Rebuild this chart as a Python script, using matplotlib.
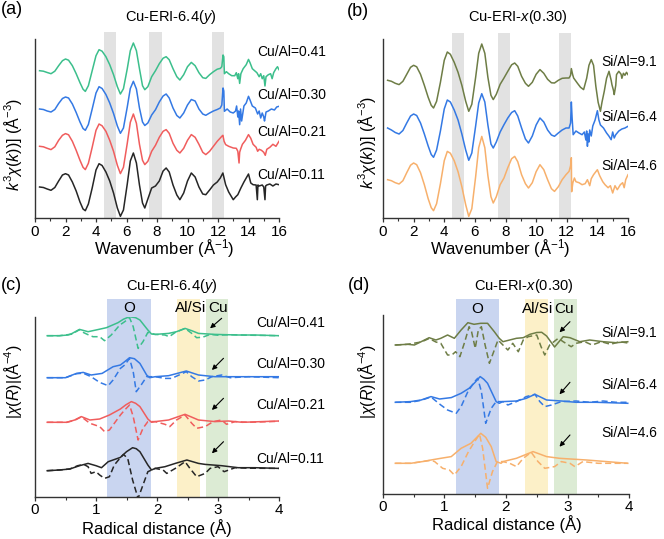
import numpy as np
import matplotlib
matplotlib.use("Agg")
import matplotlib.pyplot as plt
from matplotlib.ticker import MultipleLocator

plt.rcParams["font.family"] = ["Liberation Sans", "DejaVu Sans"]
plt.rcParams["mathtext.fontset"] = "custom"
plt.rcParams["mathtext.rm"] = "Liberation Sans"
plt.rcParams["mathtext.it"] = "Liberation Sans:italic"

# ==========================================================
# Data: k-space (panels a, b), values relative to each curve start
# ==========================================================

K_LOW = [0.3, 0.55, 0.8, 1.05, 1.3, 1.55, 1.8, 2.0, 2.2, 2.45,
         2.7, 2.95, 3.15, 3.3, 3.5, 3.75, 4.0, 4.2, 4.4, 4.65,
         4.9, 5.15, 5.4, 5.6, 5.8, 6.05, 6.25, 6.45, 6.65, 6.85,
         7.05, 7.2, 7.4, 7.65, 7.9, 8.15, 8.4, 8.6, 8.8, 9.05,
         9.3, 9.5, 9.75, 10.0, 10.25, 10.5, 10.75, 11.0, 11.2, 11.45,
         11.7, 11.95, 12.15]

# panel (a): Cu-ERI-6.4(y)
a_labels = ["Cu/Al=0.41", "Cu/Al=0.30", "Cu/Al=0.21", "Cu/Al=0.11"]
a_colors = ["#3cbf8c", "#3479e4", "#f05d5d", "#262626"]
a_offsets = [147.3, 109, 71.7, 31]

a041_low = [0, -0.5, -1.8, -3, -0.5, 5, 10, 11.7, 10.5, 5,
            -3, -12, -18.5, -20.7, -15, 0, 15, 21, 19.5, 14,
            6, -4, -16, -23.3, -18, 2, 20, 27.7, 20, 2,
            -15, -19, -16, -6, 0, 7, 12.5, 14, 11, 2,
            -6, -9.3, -4, 4, 8.3, 5, -2, -7, -7.7, -4,
            -1, 1.5, 2.3]
a041_khi = [12.25, 12.33, 12.38, 12.42, 12.55, 12.7, 12.9, 13.1, 13.2, 13.3,
            13.35, 13.42, 13.5, 13.65, 13.85, 14.0, 14.1, 14.25, 14.4, 14.55,
            14.7, 14.8, 14.9, 15.0, 15.08, 15.15, 15.3, 15.45, 15.55, 15.65,
            15.8, 15.9, 16.0]
a041_hi = [4, 15.7, 14, -3, -1, -3, -5, -5, -2, -8,
           -3, -12.7, -3, 2, 6, 11.3, 8, 2, 0, -2,
           -6, -3, -8, -5, -15.3, -6, -4, -3, -8, -2,
           2, 4, 1]

a030_low = [0, -0.5, -2, -3, -0.5, 5.5, 10.5, 12, 11, 5,
            -3.5, -13, -19.5, -21.3, -15.5, 0, 16, 22.3, 20.5, 14.5,
            6, -4.5, -17, -24.3, -19, 2, 20.5, 27.7, 20, 1,
            -13, -16.5, -14, -6, -0.7, 7, 13, 15, 11, 1,
            -6.5, -9, -4, 4, 9.5, 8, 0, -5, -6.3, -4,
            -2, -0.5, 1]
a030_khi = [12.25, 12.33, 12.38, 12.42, 12.6, 12.8, 13.0, 13.15, 13.22, 13.3,
            13.35, 13.42, 13.48, 13.55, 13.7, 13.85, 14.0, 14.1, 14.25, 14.45,
            14.6, 14.7, 14.8, 14.9, 15.0, 15.05, 15.15, 15.3, 15.5, 15.7,
            15.85, 16.0]
a030_hi = [4, 21, 18, -2.3, 0, -3, -4, -2, 3, -8,
           -2, -15.7, 0, -12, 3, 6, 12.7, 9, 3, 1,
           -5, -2, -9, -4, -8, -12, -3, -2, 0, -1,
           2, 2.7]

a021_low = [0, -0.5, -2, -3.3, -0.5, 6, 11, 12.7, 11.5, 5,
            -4, -14, -21, -23.3, -17, -1, 16, 22.3, 20.5, 15,
            6, -5, -19, -27.3, -21, 3, 24, 32.3, 23, 2,
            -14, -18.3, -15, -5, 1, 9, 15, 16.7, 13, 3,
            -4, -6.7, -2, 6, 11.7, 9, 2, -6, -8.3, -5,
            0, 5, 8.3]
a021_khi = [12.25, 12.32, 12.4, 12.5, 12.7, 13.0, 13.2, 13.3, 13.38, 13.42,
            13.48, 13.6, 13.8, 14.0, 14.15, 14.3, 14.5, 14.6, 14.7, 14.85,
            15.0, 15.1, 15.2, 15.4, 15.6, 15.8, 16.0]
a021_hi = [10, 11, 5, 1.7, 0, -1.7, -2, -5, -16.7, -6,
           -3, 2, 6, 11.7, 8, 2, -1, -5, -3, -4,
           -6, -9, -3, -1, 2, 0, 5]

a011_low = [0, -0.5, -2, -3.3, -0.5, 6, 12, 13.3, 12, 5,
            -4, -15, -22, -23.7, -17, -1, 17, 23.3, 21.5, 15,
            6, -6, -21, -29.3, -23, 3, 26, 34, 24, 2,
            -16, -21, -12, -1, 1, 6, 16, 19, 15, 2,
            -8, -12.7, -6, 6, 14, 10, 0, -7, -7.7, -3,
            2, 5, 9]
a011_khi = [12.25, 12.32, 12.5, 12.7, 13.0, 13.15, 13.3, 13.5, 13.7, 13.85,
            14.0, 14.15, 14.3, 14.5, 14.58, 14.62, 14.7, 14.9, 15.0, 15.08,
            15.12, 15.2, 15.4, 15.6, 15.8, 16.0]
a011_hi = [12, 14, 2.3, -5, -12.7, -10, -7.7, -1, 5, 9,
           13, 4, 2.3, 2, -12.7, 2, 1, 2, 0, -12.7,
           1, 2, 3, 1, 3, 2.3]

# panel (b): Cu-ERI-x(0.30)
b_labels = ["Si/Al=9.1", "Si/Al=6.4", "Si/Al=4.6"]
b_colors = ["#6e7d46", "#3479e4", "#f7b06c"]
b_offsets = [137.7, 90, 38.3]

b91_low = [0, -1, -3, -4.3, -1, 6, 13, 15, 13.5, 6,
           -5, -17, -25, -27.7, -21, -2, 20, 28.3, 26, 18,
           8, -5, -21, -31, -24, 3, 27, 36.3, 27, 3,
           -15, -19.3, -14, -4, 2.3, 9, 15.5, 17.3, 14, 4,
           -3, -6, -2, 6, 10.7, 7, 1, -2.5, -2.7, 0,
           2, 2.3, 2.3]
b91_khi = [12.25, 12.3, 12.38, 12.45, 12.7, 12.9, 13.1, 13.3, 13.45, 13.6,
           13.75, 13.9, 14.05, 14.2, 14.3, 14.45, 14.6, 14.76, 14.9, 14.95,
           15.05, 15.1, 15.2, 15.25, 15.4, 15.55, 15.6, 15.7, 15.8, 15.9,
           16.0]
b91_hi = [5, 11.7, 6, 2.3, -3, -7, -9.3, 2, 15, 20.7,
          15, -6, -22, -31, -22, -11, 2, 9, 0, -4.3,
          -10, -14.3, -5, 5.7, 9, 6, 2, 7, 5, 8,
          5.7]

b64_low = [0, -2, -4.5, -6, -2.5, 5, 12, 14, 12.5, 5,
           -6, -18, -26.5, -29.3, -22, -3, 19, 28, 26, 18,
           8, -6, -22, -32.3, -25, 2, 25, 34.3, 26, 3,
           -16, -20, -14, -4, 3.3, 10, 15.5, 17.3, 12, 0,
           -11, -15, -8, 3, 10, 6, -2, -7, -8.3, -5,
           -2, 0, 0]
b64_khi = [12.25, 12.3, 12.35, 12.42, 12.6, 12.8, 13.0, 13.15, 13.25, 13.3,
           13.35, 13.4, 13.45, 13.5, 13.6, 13.7, 13.85, 14.0, 14.1, 14.2,
           14.4, 14.6, 14.75, 14.9, 15.0, 15.1, 15.2, 15.4, 15.6, 15.8,
           16.0]
b64_hi = [5, 26, 10, -6.7, -3, -5, -6.7, -4, -12, -3,
          -18.3, -6, -14, -2, -8, 2, 8, 17.3, 8, 3,
          0, -5, -8, -11.7, -4, -10, -6.7, -3, -1, 0,
          1.7]

b46_low = [0, -1, -3, -4.3, -1, 7, 14.5, 16.7, 15, 7,
           -5, -19, -28, -31, -24, -4, 19, 28.3, 26.5, 19,
           8, -7, -25, -36.7, -29, 3, 32, 43.3, 32, 4,
           -17, -23.3, -17, -5, 1.7, 12, 21, 23.3, 18, 5,
           -4, -8.3, -3, 8, 15, 10, 0, -9, -11.7, -7,
           0, 5, 8.3]
b46_khi = [12.25, 12.3, 12.32, 12.4, 12.5, 12.6, 12.8, 13.0, 13.2, 13.35,
           13.5, 13.6, 13.75, 13.9, 14.0, 14.15, 14.35, 14.5, 14.7, 14.85,
           15.0, 15.15, 15.3, 15.5, 15.65, 15.75, 15.85, 16.0]
b46_hi = [14, 22, -12, -3, 1.7, -2, -3, -5, -4, 0,
          -6, 1, 5, 8, 10, 4, -2, -5, -8, -6,
          -13.3, -6, -10, -5, -3, -8, 0, 5]

# ==========================================================
# Data: R-space (panels c, d), |chi(R)| solid and Im part dashed
# ==========================================================

c_labels = a_labels
c_colors = a_colors
c_offsets = [161.3, 119.3, 74.7, 26.3]

c041_r = [0.2, 0.4, 0.54, 0.6, 0.73, 0.87, 1.0, 1.17, 1.36, 1.45,
          1.55, 1.65, 1.72, 1.85, 1.91, 1.97, 2.19, 2.32, 2.46, 2.57,
          2.68, 2.95, 3.33, 3.61, 4.0]
c041_mag = [0, 0, 0.7, 2, 6.3, 4, 5.7, 8, 13, 16.5,
            19, 18, 15.7, 5.7, 1.7, 1.3, 2.3, 4, 7.3, 5,
            2.3, 1.3, 0.7, 0.7, 0]
c041_ri = [0.2, 0.4, 0.6, 0.73, 0.8, 0.87, 0.95, 1.06, 1.14, 1.25,
           1.39, 1.47, 1.55, 1.61, 1.69, 1.77, 1.85, 1.97, 2.13, 2.2,
           2.3, 2.46, 2.57, 2.65, 2.75, 2.87, 3.0, 3.2, 3.5, 4.0]
c041_im = [0, 0, 1.5, 6, 3, 1, -1, -1, -5, 0.7,
           10.7, 14, 18, 9, -12.7, -6, 3.3, 1.3, 0.7, -1,
           3.3, 7.3, 2.3, -2, -1.5, 1.3, 0.5, 1, 0.5, 0]

c030_r = [0.2, 0.5, 0.57, 0.68, 0.79, 0.92, 1.1, 1.28, 1.4, 1.47,
          1.55, 1.63, 1.72, 1.83, 1.88, 1.97, 2.19, 2.48, 2.68, 2.95,
          3.33, 4.0]
c030_mag = [0, 0, 1.7, 4.3, 5.3, 2.7, 4.3, 11, 12.7, 16,
            20, 19, 14.3, 2.7, 0, 1, 2, 6.7, 2.7, 1,
            1, 1]
c030_ri = [0.2, 0.5, 0.68, 0.79, 0.92, 1.06, 1.2, 1.28, 1.4, 1.47,
           1.55, 1.61, 1.66, 1.74, 1.83, 1.97, 2.13, 2.24, 2.48, 2.57,
           2.68, 2.79, 2.9, 3.06, 3.2, 3.5, 4.0]
c030_im = [0, 0, 4, 4.5, 1, -4.7, -8, -2.3, 9.3, 12.7,
           19.3, 6, -14, -7.3, 1, 1, -0.7, -0.7, 6, 1,
           -3.3, -2.3, 1, 2.7, 0, 1, 0]

c021_r = [0.2, 0.52, 0.65, 0.76, 0.9, 1.06, 1.22, 1.4, 1.49, 1.58,
          1.65, 1.72, 1.85, 1.91, 1.97, 2.19, 2.46, 2.68, 2.95, 3.17,
          3.4, 4.0]
c021_mag = [0, 0, 2.3, 5.7, 2.3, 3.3, 7.3, 13.3, 17.5, 20.7,
            19, 15.7, 3.3, 0, 0.7, 2.3, 8, 2.3, 0.7, 1.3,
            0, 1.3]
c021_ri = [0.2, 0.52, 0.65, 0.76, 0.9, 1.06, 1.14, 1.22, 1.4, 1.47,
           1.55, 1.61, 1.69, 1.77, 1.85, 1.97, 2.13, 2.21, 2.32, 2.46,
           2.57, 2.65, 2.79, 2.92, 3.06, 3.14, 3.28, 3.5, 4.0]
c021_im = [0, 0, 2, 5.5, -1, -4.3, -9.3, -7.7, 7.3, 12.3,
           17.3, 5.7, -17.7, -6, 0.7, 0.7, -2, -4.3, 2.3, 7.3,
           -1, -6, -4.3, 0.7, 2.3, -2, 0.7, 0, 1]

c011_r = [0.2, 0.4, 0.57, 0.73, 0.87, 1.0, 1.09, 1.2, 1.4, 1.5,
          1.6, 1.66, 1.72, 1.85, 1.91, 1.97, 2.13, 2.3, 2.49, 2.68,
          2.79, 3.06, 3.33, 3.61, 4.0]
c011_mag = [0, 0.7, 1.7, 5, 7.3, 5, 3, 9, 13.3, 19,
            23, 22, 19, 5.7, 0.7, 2.3, 4, 7.3, 10.7, 7.3,
            6.3, 5, 3, 3, 2.3]
c011_ri = [0.2, 0.4, 0.57, 0.7, 0.8, 0.87, 0.92, 1.0, 1.06, 1.14,
           1.22, 1.3, 1.39, 1.45, 1.52, 1.6, 1.69, 1.77, 1.85, 1.97,
           2.1, 2.16, 2.3, 2.46, 2.54, 2.65, 2.79, 2.87, 3.0, 3.1,
           3.28, 3.5, 4.0]
c011_im = [0, 0.7, 1.7, 5, 6.3, 4, -2.7, -1, -4.3, -7.7,
           -6, 5.7, 12.3, 16.3, 12.3, -9.3, -27.7, -14.3, -1, 2.3,
           0.7, -2.7, 2.3, 9, 2.3, -6, -2.7, 2.3, 4, -1,
           3, 2.5, 2.3]

d_labels = b_labels
d_colors = b_colors
d_offsets = [149, 91.7, 30.7]

d91_r = [0.2, 0.4, 0.51, 0.62, 0.75, 0.86, 0.94, 1.05, 1.16, 1.27,
         1.38, 1.48, 1.59, 1.7, 1.81, 1.89, 1.95, 2.06, 2.17, 2.28,
         2.39, 2.5, 2.58, 2.66, 2.79, 2.93, 3.04, 3.2, 3.36, 3.58,
         3.79, 3.98]
d91_mag = [0, 0.7, 0, 3.3, 7.3, 5, 6.7, 10, 6.7, 15,
           22.3, 20.7, 21.7, 21.7, 13.3, 6.7, 3.3, 5, 6.7, 7.3,
           10.7, 12.5, 12.7, 9, -2, 8.3, 7.3, 3.3, 5, 3.3,
           2.3, 3.3]
d91_ri = [0.2, 0.4, 0.62, 0.75, 0.86, 0.94, 1.05, 1.12, 1.18, 1.25,
          1.33, 1.4, 1.44, 1.5, 1.55, 1.6, 1.66, 1.73, 1.8, 1.87,
          1.95, 2.03, 2.11, 2.2, 2.28, 2.36, 2.5, 2.57, 2.63, 2.71,
          2.85, 2.93, 3.06, 3.14, 3.28, 3.4, 3.55, 3.7, 3.85, 3.98]
d91_im = [0, 0.7, 3, 6.5, 3, 1.7, -10, -10, -6.7, -11.7,
          3.3, 18.3, 13.3, -3.3, 15, 18.3, 0, -18.3, -6.7, 5,
          0, -5, 1.7, -6.7, 5, 8.3, 10, -1.7, -10, 0,
          6.7, 3.3, -1.7, 1.7, 3.3, 0, 3.3, 0.7, 3.3, 2]

d64_r = [0.2, 0.45, 0.62, 0.78, 0.92, 1.11, 1.27, 1.4, 1.49, 1.58,
         1.64, 1.7, 1.84, 1.89, 1.95, 2.17, 2.33, 2.47, 2.66, 2.9,
         3.14, 3.47, 3.98]
d64_mag = [0, 0.7, 2.3, 5.7, 3.3, 4.7, 9, 14, 19.5, 25.7,
           23, 19, 0.7, -1, 0.7, 1.3, 4, 8, 2.3, 1.3,
           0, 0, -1]
d64_ri = [0.2, 0.45, 0.62, 0.78, 0.84, 0.94, 1.05, 1.19, 1.27, 1.38,
          1.49, 1.54, 1.6, 1.67, 1.76, 1.84, 1.95, 2.03, 2.17, 2.33,
          2.47, 2.55, 2.63, 2.74, 2.9, 3.14, 3.36, 3.58, 3.79, 3.98]
d64_im = [0, 0, 2, 5.3, 2.3, -2.7, -7.7, -11, -4.3, 10.7,
          20.7, 24, 10.7, -21, -6, 0.7, 0.7, -2.7, 0.7, 5.7,
          8, 0.7, -4.3, -2.7, 0.7, 1.3, 0, 1.3, 0, 0]

d46_r = [0.2, 0.45, 0.64, 0.78, 0.94, 1.11, 1.27, 1.43, 1.51, 1.59,
         1.67, 1.76, 1.84, 1.92, 1.95, 2.17, 2.44, 2.66, 2.87, 3.31,
         3.98]
d46_mag = [0, 0, 1.7, 3.3, 5, 6.7, 15, 20, 25, 30,
           26, 16.7, 1.7, 0, 1.7, 5, 11.7, 6.7, 5, 3.3,
           0]
d46_ri = [0.2, 0.45, 0.64, 0.78, 0.84, 0.97, 1.08, 1.16, 1.27, 1.39,
          1.49, 1.57, 1.62, 1.7, 1.78, 1.86, 1.95, 2.06, 2.17, 2.28,
          2.41, 2.52, 2.63, 2.79, 2.9, 3.04, 3.12, 3.25, 3.5, 3.98]
d46_im = [0, 0, 1.7, 3, 1.7, -5, -6.7, -11.7, -3.3, 11.7,
          21.7, 29, 15, -25, -8.3, 1.7, 1.7, 0, -3.3, 5,
          11, 1.7, -5, -3.3, 1.7, 0, -3.3, 1.7, 0, 0]

# shaded regions
K_BANDS = [(4.5, 5.3), (7.5, 8.3), (11.6, 12.4)]
K_BANDS_B = [(4.5, 5.3), (7.5, 8.3), (11.5, 12.3)]
R_BANDS = [(1.18, 1.90, "#c9d5f0"), (2.33, 2.70, "#fcf0c8"), (2.80, 3.17, "#dcebd4")]
R_BANDS_D = [(1.18, 1.88, "#c9d5f0"), (2.31, 2.68, "#fcf0c8"), (2.78, 3.15, "#dcebd4")]

# ==========================================================
# Figure
# ==========================================================

W, H = 664, 539
fig = plt.figure(figsize=(W / 100, H / 100), dpi=100)


def px_axes(left, top, right, bottom):
    return fig.add_axes([left / W, 1 - bottom / H, (right - left) / W, (bottom - top) / H])


def ftext(x, y, s, **kw):
    fig.text(x / W, 1 - y / H, s, **kw)


def style(ax, xmax, major, minor):
    for sp in ["top", "right"]:
        ax.spines[sp].set_visible(False)
    for sp in ["left", "bottom"]:
        ax.spines[sp].set_color("#333333")
        ax.spines[sp].set_linewidth(1.0)
    ax.set_yticks([])
    ax.set_xlim(0, xmax)
    ax.xaxis.set_major_locator(MultipleLocator(major))
    ax.xaxis.set_minor_locator(MultipleLocator(minor))
    ax.tick_params(axis="x", which="both", direction="out", colors="#333333",
                   labelcolor="black", labelsize=11, pad=2)
    ax.tick_params(axis="x", which="major", length=3, width=0.9)
    ax.tick_params(axis="x", which="minor", length=2, width=0.8)


def arrow(ax, x0, y0, x1, y1):
    ax.annotate("", xy=(x1, y1), xytext=(x0, y0),
                arrowprops=dict(arrowstyle="-|>", lw=0.8, color="black",
                                mutation_scale=7, shrinkA=0, shrinkB=0),
                annotation_clip=False)


LW = 1.1
DASH = (0, (4, 2.2))

ax_a = px_axes(35, 39, 279, 218)
ax_b = px_axes(383, 39, 628, 218)
ax_c = px_axes(35, 317, 279, 497)
ax_d = px_axes(383, 315, 629, 494)

# ---------------- panel (a)
style(ax_a, 16, 2, 1)
ax_a.set_ylim(0, 179)
for lo, hi in K_BANDS:
    ax_a.axvspan(lo, hi, ymin=0, ymax=1.04, color="#e2e2e2", lw=0, zorder=0, clip_on=False)
a_series = [(a041_low, a041_khi, a041_hi), (a030_low, a030_khi, a030_hi),
            (a021_low, a021_khi, a021_hi), (a011_low, a011_khi, a011_hi)]
for (low, khi, hi), off, col in zip(a_series, a_offsets, a_colors):
    k = np.concatenate([K_LOW, khi])
    v = np.concatenate([low, hi])
    ax_a.plot(k, v + off, color=col, lw=LW, zorder=2)
ax_a.set_xlabel("Wavenumber (Å$^{-1}$)", fontsize=12)
ax_a.xaxis.set_label_coords(0.53, -0.11)
ax_a.set_ylabel(r"$k^3\chi(k))]$ (Å$^{-3}$)", fontsize=11.5)
ax_a.yaxis.set_label_coords(-0.045, 0.41)

# ---------------- panel (b)
style(ax_b, 16, 2, 1)
ax_b.set_ylim(0, 179)
for lo, hi in K_BANDS_B:
    ax_b.axvspan(lo, hi, ymin=0, ymax=1.034, color="#e2e2e2", lw=0, zorder=0, clip_on=False)
b_series = [(b91_low, b91_khi, b91_hi), (b64_low, b64_khi, b64_hi),
            (b46_low, b46_khi, b46_hi)]
for (low, khi, hi), off, col in zip(b_series, b_offsets, b_colors):
    k = np.concatenate([K_LOW, khi])
    v = np.concatenate([low, hi])
    ax_b.plot(k, v + off, color=col, lw=LW, zorder=2)
ax_b.set_xlabel("Wavenumber (Å$^{-1}$)", fontsize=12)
ax_b.xaxis.set_label_coords(0.48, -0.11)
ax_b.set_ylabel(r"$k^3\chi(k))]$ (Å$^{-3}$)", fontsize=11.5)
ax_b.yaxis.set_label_coords(-0.02, 0.42)

# ---------------- panel (c)
style(ax_c, 4, 1, 0.5)
ax_c.set_ylim(0, 180)
for lo, hi, col in R_BANDS:
    ax_c.axvspan(lo, hi, ymin=0, ymax=1.1, color=col, lw=0, zorder=0, clip_on=False)
c_series = [(c041_r, c041_mag, c041_ri, c041_im), (c030_r, c030_mag, c030_ri, c030_im),
            (c021_r, c021_mag, c021_ri, c021_im), (c011_r, c011_mag, c011_ri, c011_im)]
for (r, mag, ri, im), off, col in zip(c_series, c_offsets, c_colors):
    ax_c.plot(r, np.array(mag) + off, color=col, lw=LW, zorder=3)
    ax_c.plot(ri, np.array(im) + off, color=col, lw=LW, ls=DASH, zorder=2)
ax_c.set_xlabel("Radical distance (Å)", fontsize=12)
ax_c.xaxis.set_label_coords(0.5, -0.12)
ax_c.set_ylabel(r"$|\chi(R)|$(Å$^{-4}$)", fontsize=11.5)
ax_c.yaxis.set_label_coords(-0.045, 0.64)
ax_c.tick_params(axis="x", pad=1.5)

# arrows marking the Cu-Cu shell
c_arrows = [(3.06, 178.7, 2.87, 168.7), (3.09, 138.7, 2.90, 127),
            (3.09, 98.7, 2.90, 87), (3.09, 55.3, 2.90, 43.7)]
for x0, y0, x1, y1 in c_arrows:
    arrow(ax_c, x0, y0, x1, y1)

# ---------------- panel (d)
style(ax_d, 4, 1, 0.5)
ax_d.set_ylim(0, 179)
for lo, hi, col in R_BANDS_D:
    ax_d.axvspan(lo, hi, ymin=0, ymax=1.09, color=col, lw=0, zorder=0, clip_on=False)
d_series = [(d91_r, d91_mag, d91_ri, d91_im), (d64_r, d64_mag, d64_ri, d64_im),
            (d46_r, d46_mag, d46_ri, d46_im)]
for (r, mag, ri, im), off, col in zip(d_series, d_offsets, d_colors):
    ax_d.plot(r, np.array(mag) + off, color=col, lw=LW, zorder=3)
    ax_d.plot(ri, np.array(im) + off, color=col, lw=LW, ls=DASH, zorder=2)
ax_d.set_xlabel("Radical distance (Å)", fontsize=12)
ax_d.xaxis.set_label_coords(0.504, -0.12)
ax_d.set_ylabel(r"$|\chi(R)|$(Å$^{-4}$)", fontsize=11.5)
ax_d.yaxis.set_label_coords(-0.02, 0.63)
ax_d.tick_params(axis="x", pad=1.5)

d_arrows = [(3.04, 172.3, 2.87, 161.7), (3.04, 111.7, 2.87, 99.7), (3.04, 59, 2.87, 47.3)]
for x0, y0, x1, y1 in d_arrows:
    arrow(ax_d, x0, y0, x1, y1)

# ==========================================================
# Text: panel tags, titles, curve labels, band labels
# ==========================================================

tag = dict(fontsize=13, ha="left", va="center")
ftext(1, 10, "(a)", **tag)
ftext(347, 11, "(b)", **tag)
ftext(1, 285, "(c)", **tag)
ftext(348, 285, "(d)", **tag)

ttl = dict(fontsize=10.5, ha="center", va="center")
ftext(171, 17, r"Cu-ERI-6.4($\mathit{y}$)", **ttl)
ftext(518, 17, r"Cu-ERI-$\mathit{x}$(0.30)", **ttl)
ftext(172, 286, r"Cu-ERI-6.4($\mathit{y}$)", **ttl)
ftext(524, 286, r"Cu-ERI-$\mathit{x}$(0.30)", **ttl)

lab = dict(fontsize=10, ha="left", va="center")
for s, y in zip(a_labels, [52, 95, 132, 175]):
    ftext(257, y, s, **lab)
for s, y in zip(b_labels, [62, 117, 166]):
    ftext(601, y, s, **lab)
for s, y in zip(c_labels, [323, 364, 405, 459]):
    ftext(256, y, s, **lab)
for s, y in zip(d_labels, [333, 385, 433]):
    ftext(601, y, s, **lab)

band = dict(fontsize=11, ha="center", va="center")
ftext(129.5, 308, "O", **band)
ftext(190.5, 308, "Al/Si", **band)
ftext(218, 308, "Cu", **band)
ftext(477, 309, "O", **band)
ftext(538, 309, "Al/Si", **band)
ftext(564, 309, "Cu", **band)

fig.savefig("out.png", dpi=100)
